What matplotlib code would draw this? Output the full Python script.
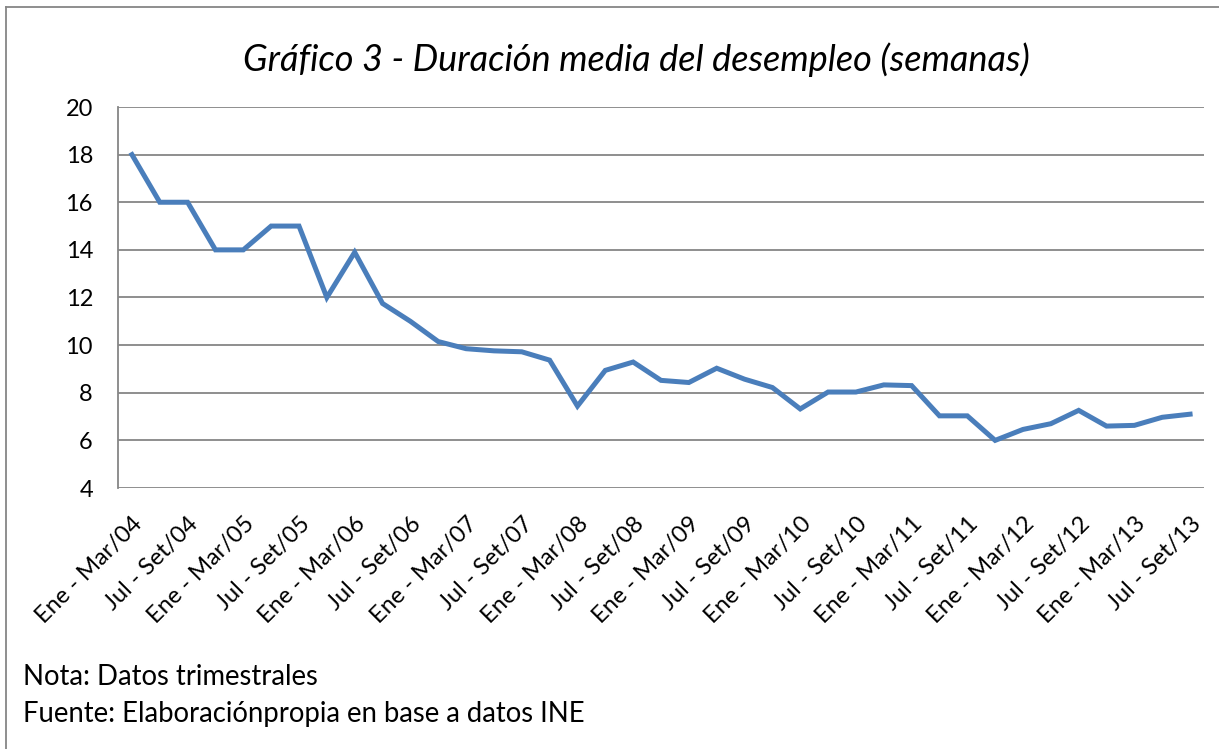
import matplotlib
matplotlib.use("Agg")
import matplotlib.pyplot as plt
from matplotlib.lines import Line2D

plt.rcParams['font.family'] = ['Lato', 'DejaVu Sans']

quarters = ["Ene - Mar", "Abr - Jun", "Jul - Set", "Oct - Dic"]
years = list(range(4, 14))
categories = [f"{q}/{y:02d}" for y in years for q in quarters][:39]

values = [18, 16, 16, 14, 14, 15, 15, 12, 13.9, 11.75, 11.0, 10.15, 9.85, 9.76, 9.72, 9.37,
          7.44, 8.94, 9.29, 8.52, 8.43, 9.03, 8.57, 8.22, 7.32, 8.03, 8.03, 8.33, 8.3,
          7.03, 7.03, 6.0, 6.46, 6.7, 7.26, 6.6, 6.63, 6.97, 7.1]

yticks = [4, 6, 8, 10, 12, 14, 16, 18, 20]
title = "Gráfico 3 - Duración media del desempleo (semanas)"
notes = ["Nota: Datos trimestrales", "Fuente: Elaboraciónpropia en base a datos INE"]

W, H = 1219, 749
fig = plt.figure(figsize=(W / 100, H / 100), dpi=100)
ax = fig.add_axes([118 / W, 1 - 488 / H, (1204 - 118) / W, (488 - 107) / H])

x = list(range(len(values)))
ax.plot(x, values, color="#4A7EBB", lw=3.6, solid_joinstyle="miter", zorder=3)

ax.set_xlim(-0.5, len(values) - 0.5)
ax.set_ylim(4, 20)
ax.set_yticks(yticks)
ax.set_yticklabels([str(v) for v in yticks], fontsize=17)
ax.yaxis.grid(True, color="#868686", lw=1.3)
ax.set_axisbelow(True)
tick_idx = x[::2]
ax.set_xticks(tick_idx)
ax.set_xticklabels([categories[i] for i in tick_idx], rotation=45, ha="right",
                   va="top", rotation_mode="anchor", fontsize=17)
ax.tick_params(axis="both", length=0)
ax.tick_params(axis="y", pad=18)
ax.tick_params(axis="x", pad=18)
for s in ["top", "right", "bottom"]:
    ax.spines[s].set_visible(False)
ax.spines["left"].set_color("#868686")
ax.spines["left"].set_linewidth(1.3)

fig.text(636 / W, 1 - 60 / H, title, ha="center", va="center", fontsize=26, style="italic")
fig.text(23 / W, 1 - 677 / H, notes[0], ha="left", va="center", fontsize=19.8)
fig.text(23 / W, 1 - 714 / H, notes[1], ha="left", va="center", fontsize=19.8)

# outer frame (left and top edges visible)
fig.add_artist(Line2D([6 / W, 6 / W], [0, 1 - 7 / H], transform=fig.transFigure, color="#868686", lw=1.3))
fig.add_artist(Line2D([6 / W, 1], [1 - 7 / H, 1 - 7 / H], transform=fig.transFigure, color="#868686", lw=1.3))

fig.savefig("out.png", dpi=100, facecolor="white")
